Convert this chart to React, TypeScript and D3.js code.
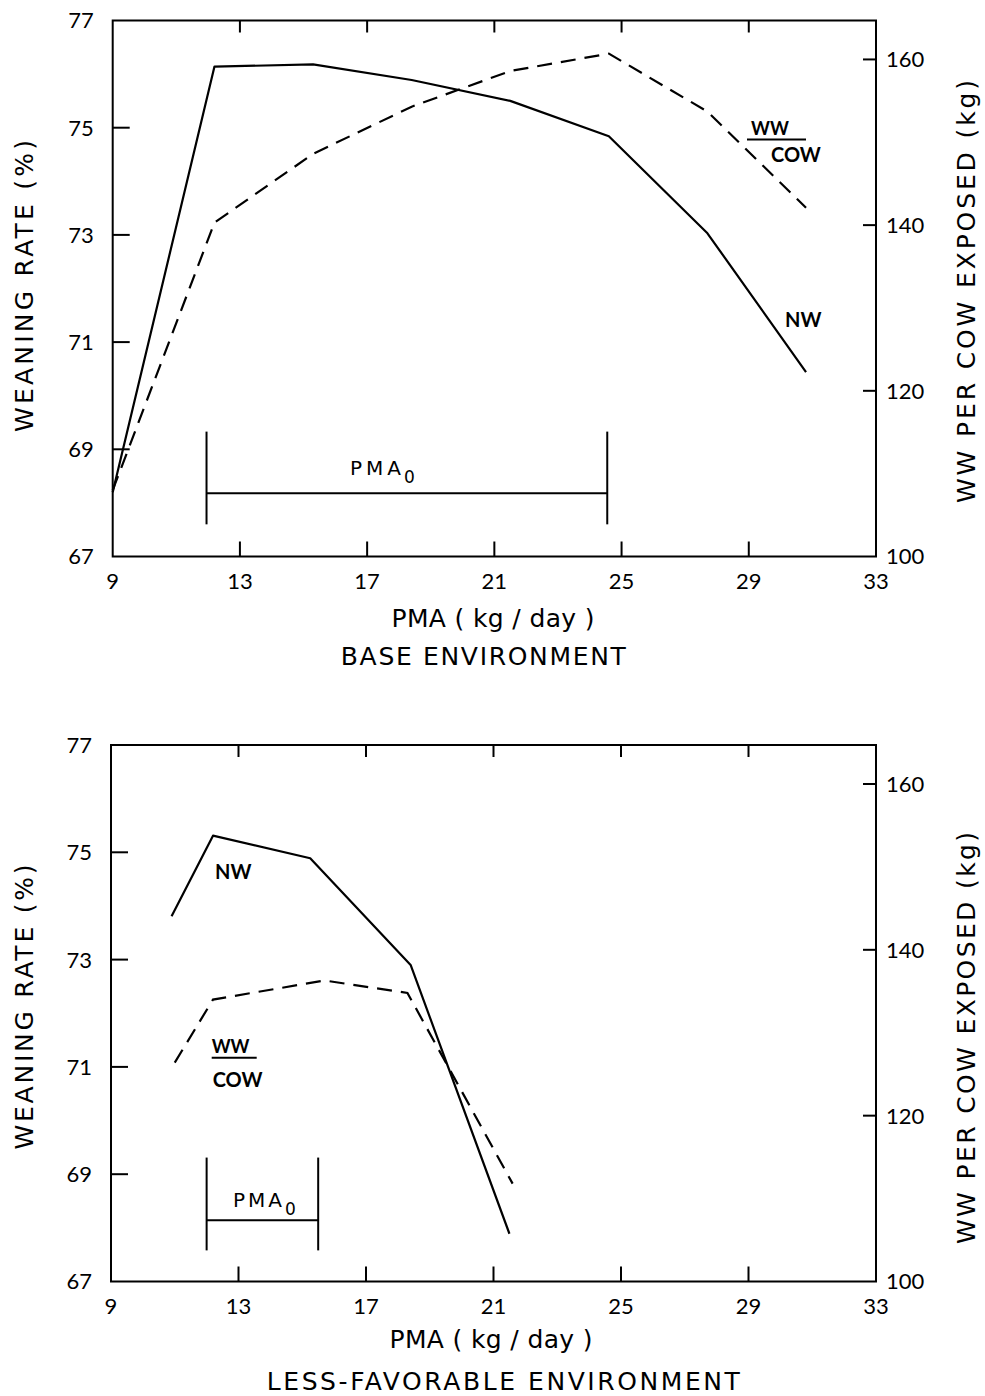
import React from "react";
import * as d3 from "d3";

// ---------- data ----------
const xTicks = [9, 13, 17, 21, 25, 29, 33];
const leftTicks = [67, 69, 71, 73, 75, 77];
const rightTicks = [100, 120, 140, 160];

// Base environment
const baseNWx = [9, 12.2, 15.3, 18.4, 21.5, 24.6, 27.7, 30.8];
const baseNW = [68.2, 76.14, 76.18, 75.89, 75.5, 74.84, 73.03, 70.44];
const baseWWx = [9, 12.2, 15.3, 18.4, 21.5, 24.6, 27.7, 30.8];
const baseWW = [108, 140.3, 148.6, 154.3, 158.6, 160.7, 153.7, 142.1];
const basePMAo = [11.95, 24.55];

// Less-favorable environment
const lessNWx = [10.9, 12.2, 15.25, 18.4, 21.5];
const lessNW = [73.81, 75.31, 74.89, 72.9, 67.89];
const lessWWx = [11.0, 12.2, 15.7, 18.3, 21.6];
const lessWW = [126.4, 134.0, 136.3, 134.8, 111.8];
const lessPMAo = [12.0, 15.5];

const FONT = "Lato, 'Noto Sans', sans-serif";
const TFONT = "'DejaVu Sans', Lato, sans-serif";

type PanelProps = {
  x0: number; x1: number; yTop: number; yBot: number;
  nwx: number[]; nw: number[]; wwx: number[]; ww: number[];
  pmao: number[];
  bracket: { mid: number; lo: number; hi: number };
  pmaoLabel: { x: number; y: number; w: number };
  nwLabel: { x: number; y: number };
  wwLabel: { x: number; y: number; lineX1: number; lineX2: number; lineY: number; cowX: number; cowY: number };
  xTitleY: number; xTitleX: number;
  subtitle: string; subX: number; subY: number; subW: number;
  leftTitleY: number; leftTitleW: number; rightTitleY: number; rightTitleW: number;
};

function Panel(p: PanelProps) {
  const x = d3.scaleLinear().domain([9, 33]).range([p.x0, p.x1]);
  const yL = d3.scaleLinear().domain([67, 77]).range([p.yBot, p.yTop]);
  const yR = d3.scaleLinear().domain([100, 164.7]).range([p.yBot, p.yTop]);

  const nwPts: [number, number][] = p.nwx.map((v, i) => [x(v), yL(p.nw[i])]);
  const wwPts: [number, number][] = p.wwx.map((v, i) => [x(v), yR(p.ww[i])]);
  const line = d3.line();

  const inner = xTicks.slice(1, -1);
  const innerL = leftTicks.slice(1, -1);
  const innerR = rightTicks.slice(1);

  return (
    <g fontFamily={FONT} fill="#000">
      <rect x={p.x0} y={p.yTop} width={p.x1 - p.x0} height={p.yBot - p.yTop}
        fill="none" stroke="#000" strokeWidth={2} />
      {inner.map((t) => (
        <g key={"xt" + t}>
          <line x1={x(t)} x2={x(t)} y1={p.yBot} y2={p.yBot - 15} stroke="#000" strokeWidth={2} />
          <line x1={x(t)} x2={x(t)} y1={p.yTop} y2={p.yTop + 12} stroke="#000" strokeWidth={2} />
        </g>
      ))}
      {innerL.map((t) => (
        <line key={"lt" + t} x1={p.x0} x2={p.x0 + 17} y1={yL(t)} y2={yL(t)} stroke="#000" strokeWidth={2} />
      ))}
      {innerR.map((t) => (
        <line key={"rt" + t} x1={p.x1} x2={p.x1 - 13} y1={yR(t)} y2={yR(t)} stroke="#000" strokeWidth={2} />
      ))}
      {xTicks.map((t) => (
        <text key={"xl" + t} x={x(t)} y={p.yBot + 32} fontSize={22} textAnchor="middle">{t}</text>
      ))}
      {leftTicks.map((t) => (
        <text key={"ll" + t} x={p.x0 - 19} y={yL(t)} dy="0.36em" fontSize={22} textAnchor="end">{t}</text>
      ))}
      {rightTicks.map((t) => (
        <text key={"rl" + t} x={p.x1 + 10} y={yR(t)} dy="0.36em" fontSize={22} textAnchor="start">{t}</text>
      ))}

      <path d={line(nwPts) || ""} fill="none" stroke="#000" strokeWidth={2.2} strokeLinejoin="round" />
      <path d={line(wwPts) || ""} fill="none" stroke="#000" strokeWidth={2.2} strokeDasharray="15 9" />

      {/* PMAo bracket */}
      <line x1={x(p.pmao[0])} x2={x(p.pmao[1])} y1={yL(p.bracket.mid)} y2={yL(p.bracket.mid)} stroke="#000" strokeWidth={2} />
      {p.pmao.map((v, i) => (
        <line key={"b" + i} x1={x(v)} x2={x(v)} y1={yL(p.bracket.lo)} y2={yL(p.bracket.hi)} stroke="#000" strokeWidth={2} />
      ))}
      <text x={p.pmaoLabel.x} y={p.pmaoLabel.y} fontSize={20} fontFamily={TFONT} textLength={p.pmaoLabel.w} lengthAdjust="spacing">PMA</text>
      <text x={p.pmaoLabel.x + p.pmaoLabel.w + 3} y={p.pmaoLabel.y + 8} fontSize={17} fontFamily={TFONT}>0</text>

      <text x={p.nwLabel.x} y={p.nwLabel.y} fontSize={20} fontWeight={700}>NW</text>
      <text x={p.wwLabel.x} y={p.wwLabel.y} fontSize={18} fontWeight={700}>WW</text>
      <line x1={p.wwLabel.lineX1} x2={p.wwLabel.lineX2} y1={p.wwLabel.lineY} y2={p.wwLabel.lineY} stroke="#000" strokeWidth={2} />
      <text x={p.wwLabel.cowX} y={p.wwLabel.cowY} fontSize={20} fontWeight={700}>COW</text>

      <g fontFamily={TFONT}>
        <text x={p.xTitleX} y={p.xTitleY} fontSize={25} textAnchor="middle" textLength={203} lengthAdjust="spacing">PMA ( kg / day )</text>
        <text x={p.subX} y={p.subY} fontSize={25} textAnchor="middle" textLength={p.subW} lengthAdjust="spacing">{p.subtitle}</text>
        <text transform={`translate(33,${p.leftTitleY}) rotate(-90)`} fontSize={25} textAnchor="middle"
          textLength={p.leftTitleW} lengthAdjust="spacing">WEANING RATE (%)</text>
        <text transform={`translate(975,${p.rightTitleY}) rotate(-90)`} fontSize={25} textAnchor="middle"
          textLength={p.rightTitleW} lengthAdjust="spacing">WW PER COW EXPOSED (kg)</text>
      </g>
    </g>
  );
}

export default function App() {
  return (
    <svg width={985} height={1396} style={{ position: "absolute", left: 0, top: 0, background: "#fff" }}>
      <rect width={985} height={1396} fill="#fff" />
      <Panel
        x0={112.7} x1={876} yTop={20.5} yBot={556.5}
        nwx={baseNWx} nw={baseNW} wwx={baseWWx} ww={baseWW}
        pmao={basePMAo}
        bracket={{ mid: 68.18, lo: 67.6, hi: 69.33 }}
        pmaoLabel={{ x: 350, y: 475, w: 51 }}
        nwLabel={{ x: 785, y: 327 }}
        wwLabel={{ x: 751, y: 135, lineX1: 747, lineX2: 806, lineY: 139.5, cowX: 771, cowY: 161.7 }}
        xTitleX={493} xTitleY={626.7}
        subtitle="BASE ENVIRONMENT" subX={483.3} subY={665} subW={285}
        leftTitleY={286} leftTitleW={292} rightTitleY={291.5} rightTitleW={423}
      />
      <Panel
        x0={111} x1={876} yTop={745} yBot={1281.5}
        nwx={lessNWx} nw={lessNW} wwx={lessWWx} ww={lessWW}
        pmao={lessPMAo}
        bracket={{ mid: 68.14, lo: 67.58, hi: 69.31 }}
        pmaoLabel={{ x: 233, y: 1207, w: 49 }}
        nwLabel={{ x: 215, y: 879 }}
        wwLabel={{ x: 211.7, y: 1053, lineX1: 211.7, lineX2: 256.7, lineY: 1057.7, cowX: 212.7, cowY: 1086.7 }}
        xTitleX={491} xTitleY={1348}
        subtitle="LESS-FAVORABLE ENVIRONMENT" subX={503.3} subY={1390} subW={473}
        leftTitleY={1007} leftTitleW={285} rightTitleY={1038} rightTitleW={412}
      />
    </svg>
  );
}
